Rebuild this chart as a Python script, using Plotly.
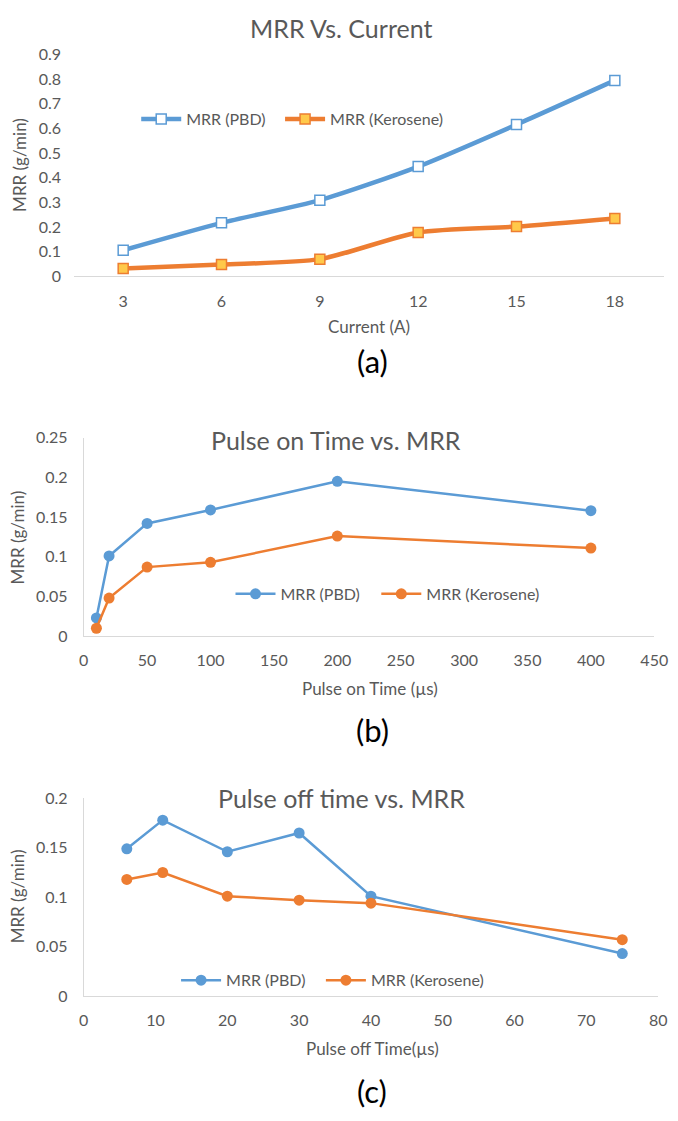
import plotly.graph_objects as go

# ---- data ----
current = [3, 6, 9, 12, 15, 18]
pbd_current = [0.106, 0.217, 0.309, 0.445, 0.615, 0.794]
ker_current = [0.032, 0.048, 0.070, 0.178, 0.202, 0.235]

pulse_on = [10, 20, 50, 100, 200, 400]
pbd_on = [0.023, 0.101, 0.142, 0.159, 0.195, 0.158]
ker_on = [0.010, 0.048, 0.087, 0.093, 0.126, 0.111]

pulse_off = [6, 11, 20, 30, 40, 75]
pbd_off = [0.149, 0.178, 0.146, 0.165, 0.101, 0.043]
ker_off = [0.118, 0.125, 0.101, 0.097, 0.094, 0.057]

ticks_a = [0, 0.1, 0.2, 0.3, 0.4, 0.5, 0.6, 0.7, 0.8, 0.9]
ticks_b = [0, 0.05, 0.1, 0.15, 0.2, 0.25]
ticks_c = [0, 0.05, 0.1, 0.15, 0.2]

W, H = 678, 1121
BLUE = "#5B9BD5"
ORANGE = "#ED7D31"
GRAY = "#595959"
AXC = "#D9D9D9"
FONT = "Lato"

def px_x(x):
    return x / W

def px_y(y):
    return 1 - y / H

fig = go.Figure()

# (a)
fig.add_trace(go.Scatter(
    x=[str(c) for c in current], y=pbd_current, name="MRR (PBD)", showlegend=True,
    mode="lines+markers", line=dict(color=BLUE, width=4.5, shape="spline", smoothing=0.7),
    marker=dict(symbol="square", size=10, color="white", line=dict(color=BLUE, width=1.5)),
    xaxis="x", yaxis="y", legend="legend"))
fig.add_trace(go.Scatter(
    x=[str(c) for c in current], y=ker_current, name="MRR (Kerosene)",
    mode="lines+markers", line=dict(color=ORANGE, width=4.5, shape="spline", smoothing=0.7),
    marker=dict(symbol="square", size=10, color="#FFC94A", line=dict(color=ORANGE, width=1.5)),
    xaxis="x", yaxis="y", legend="legend2"))

# (b)
fig.add_trace(go.Scatter(
    x=pulse_on, y=pbd_on, name="MRR (PBD)", mode="lines+markers",
    line=dict(color=BLUE, width=2.5), marker=dict(symbol="circle", size=11, color=BLUE),
    xaxis="x2", yaxis="y2", legend="legend3"))
fig.add_trace(go.Scatter(
    x=pulse_on, y=ker_on, name="MRR (Kerosene)", mode="lines+markers",
    line=dict(color=ORANGE, width=2.5), marker=dict(symbol="circle", size=11, color=ORANGE),
    xaxis="x2", yaxis="y2", legend="legend4"))

# (c)
fig.add_trace(go.Scatter(
    x=pulse_off, y=pbd_off, name="MRR (PBD)", mode="lines+markers",
    line=dict(color=BLUE, width=2.5), marker=dict(symbol="circle", size=11, color=BLUE),
    xaxis="x3", yaxis="y3", legend="legend5"))
fig.add_trace(go.Scatter(
    x=pulse_off, y=ker_off, name="MRR (Kerosene)", mode="lines+markers",
    line=dict(color=ORANGE, width=2.5), marker=dict(symbol="circle", size=11, color=ORANGE),
    xaxis="x3", yaxis="y3", legend="legend6"))

tickfont = dict(family=FONT, size=16, color=GRAY)
common_x = dict(showgrid=False, zeroline=False, showline=True, linecolor=AXC, linewidth=1,
                ticks="", tickfont=tickfont, ticklabelstandoff=10, ticklabeloverflow="allow")
common_y = dict(showgrid=False, zeroline=False, ticks="", tickfont=tickfont, ticklabelstandoff=12)
legfont = dict(family=FONT, size=16, color=GRAY)
legcommon = dict(orientation="h", xanchor="left", yanchor="middle", font=legfont,
                 bgcolor="rgba(0,0,0,0)", itemwidth=40)

fig.update_layout(
    width=W, height=H, margin=dict(l=0, r=0, t=0, b=0),
    paper_bgcolor="white", plot_bgcolor="white", showlegend=True,
    font=dict(family=FONT, color=GRAY),
    xaxis=dict(domain=[px_x(71), 1.0], type="category", range=[-0.5, 5.5], anchor="y", **common_x),
    yaxis=dict(domain=[px_y(271), px_y(45)], range=[0, 0.9], tickvals=ticks_a,
               ticktext=[f"{t:g}" for t in ticks_a], showline=False, anchor="x", **common_y),
    xaxis2=dict(domain=[px_x(81), px_x(668)], range=[0, 450], tickvals=list(range(0, 451, 50)),
                anchor="y2", **common_x),
    yaxis2=dict(domain=[px_y(637), px_y(435)], range=[0, 0.25], tickvals=ticks_b,
                ticktext=[f"{t:g}" for t in ticks_b], showline=True, linecolor=AXC, anchor="x2", **common_y),
    xaxis3=dict(domain=[px_x(81), px_x(672)], range=[0, 80], tickvals=list(range(0, 81, 10)),
                anchor="y3", **common_x),
    yaxis3=dict(domain=[px_y(1003), px_y(802)], range=[0, 0.2], tickvals=ticks_c,
                ticktext=[f"{t:g}" for t in ticks_c], showline=True, linecolor=AXC, anchor="x3", **common_y),
    legend=dict(x=px_x(135), y=px_y(111), **legcommon),
    legend2=dict(x=px_x(283), y=px_y(111), **legcommon),
    legend3=dict(x=px_x(232), y=px_y(594), **legcommon),
    legend4=dict(x=px_x(382), y=px_y(594), **legcommon),
    legend5=dict(x=px_x(176), y=px_y(987), **legcommon),
    legend6=dict(x=px_x(325), y=px_y(987), **legcommon),
)

def ann(text, x, y, size, color=GRAY, angle=0):
    fig.add_annotation(text=text, x=px_x(x), y=px_y(y), xref="paper", yref="paper",
                       showarrow=False, xanchor="center", yanchor="middle", textangle=angle,
                       font=dict(family=FONT, size=size, color=color))

# titles
ann("MRR Vs. Current", 346, 18, 25)
ann("Pulse on Time vs. MRR", 341, 437, 25)
ann("Pulse off time vs. MRR", 346, 802, 25)
# axis titles
ann("Current (A)", 375, 322, 17)
ann("Pulse on Time (µs)", 376, 690, 17)
ann("Pulse off Time(µs)", 378, 1056, 17)
ann("MRR (g/min)", 15, 158, 17, angle=-90)
ann("MRR (g/min)", 13, 537, 17, angle=-90)
ann("MRR (g/min)", 13, 902, 17, angle=-90)
# panel labels
ann("(a)", 378, 357, 31, color="black")
ann("(b)", 378, 732, 31, color="black")
ann("(c)", 378, 1100, 31, color="black")

fig.write_html("out.html", config={"displayModeBar": False},
               post_script="document.body.style.margin='0';document.body.style.overflow='hidden';")
